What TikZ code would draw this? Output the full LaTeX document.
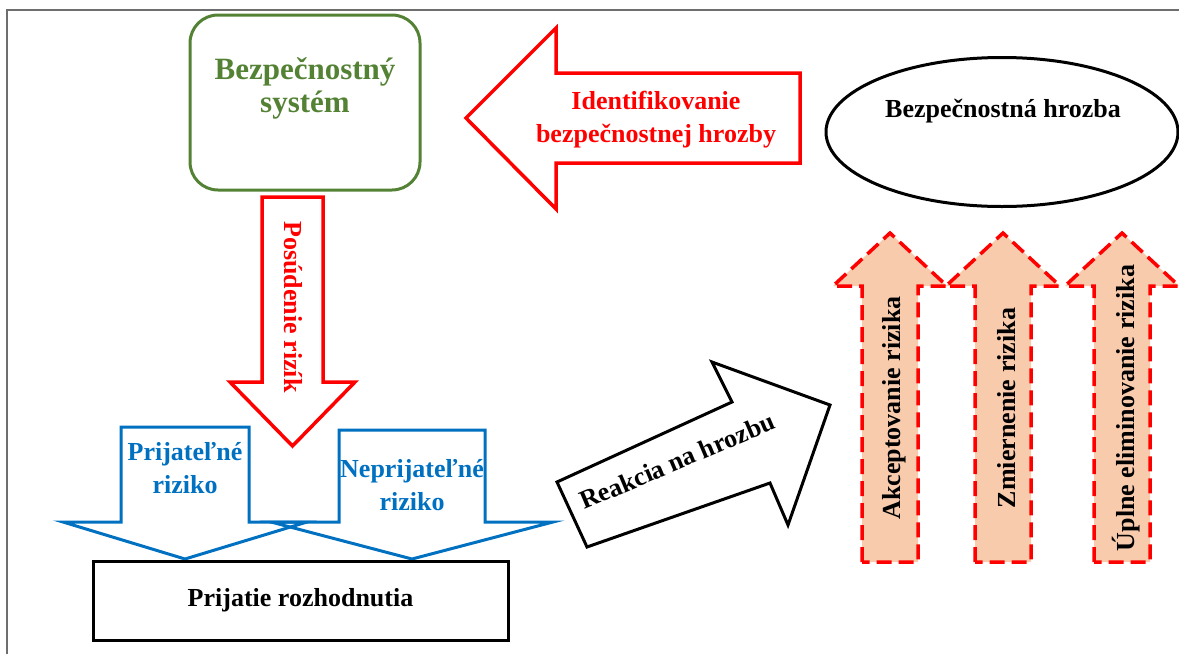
\documentclass[tikz,border=0pt]{standalone}
\usepackage{fontspec}
\setmainfont{Liberation Serif}
\usetikzlibrary{shapes.geometric,positioning}
\definecolor{darkgreen}{RGB}{84,130,53}
\definecolor{blueline}{RGB}{0,112,192}
\definecolor{peach}{RGB}{248,203,173}
\definecolor{framegray}{RGB}{110,110,110}

\begin{document}
\begin{tikzpicture}[x=1pt,y=-1pt,
  lbl/.style={font=\fontsize{26}{33}\selectfont\bfseries, align=center, inner sep=0pt},
  redarrow/.style={draw=red, line width=3.5pt},
  bluearrow/.style={draw=blueline, line width=3pt},
  riskarrow/.style={draw=red, line width=3.5pt, dash pattern=on 15pt off 7pt, fill=peach}]
\useasboundingbox (0,0) rectangle (1179,654);

% Frame
\draw[framegray, line width=1.5pt] (7,654) -- (7,10) -- (1179,10);

% Security system
\node[draw=darkgreen, line width=3pt, rounded corners=28pt, minimum width=230pt, minimum height=175pt, inner sep=0pt] (system) at (305,102.5) {};
\node[lbl, text=darkgreen, font=\fontsize{31}{33}\selectfont\bfseries] (systemtext) at (305,88) {Bezpečnostný\\systém};

% Threat
\node[draw, ellipse, line width=3pt, minimum width=352pt, minimum height=149pt] (threat) at (1002,132) {};
\node[lbl] (threattext) at (1003,111) {Bezpečnostná hrozba};

% Identification
\draw[redarrow] (466,118) -- (556,28) -- (556,73) -- (800,73) -- (800,163) -- (556,163) -- (556,209) -- cycle;
\node[lbl, text=red] (ident) at (656,120) {Identifikovanie\\bezpečnostnej hrozby};

% Risk assessment
\draw[redarrow] (262,197) -- (323,197) -- (323,382) -- (355,382) -- (292.5,446) -- (230,382) -- (262,382) -- cycle;
\node[lbl, text=red, rotate=-90] (assess) at (293,307) {Posúdenie rizík};

% Acceptable / unacceptable risk
\draw[bluearrow] (121,427) -- (249,427) -- (249,522) -- (307,522) -- (185,559) -- (63,522) -- (121,522) -- cycle;
\draw[bluearrow] (339,430) -- (485,430) -- (485,522) -- (553,522) -- (412,559) -- (271,522) -- (339,522) -- cycle;
\node[lbl, text=blueline] (accept) at (185,468) {Prijateľné\\riziko};
\node[lbl, text=blueline] (reject) at (412,485) {Neprijateľné\\riziko};

% Decision
\node[draw, line width=3pt, minimum width=415pt, minimum height=79pt, lbl] (decision) at (300.5,600.5) {Prijatie rozhodnutia};

% Response
\draw[line width=3pt, line join=miter] (557,482) -- (732,402) -- (712,362) -- (830,405) -- (788,525) -- (770,483) -- (587,547) -- cycle;
\node[lbl, rotate=23] (response) at (677,461) {Reakcia na hrozbu};

% Responses to risk
\foreach \cx/\txt [count=\i] in {890/Akceptovanie rizika, 1003/Zmiernenie rizika, 1122/Úplne eliminovanie rizika} {
  \draw[riskarrow] ({\cx-28},562) -- ({\cx-28},286) -- ({\cx-57},286) -- (\cx,233) -- ({\cx+57},286) -- ({\cx+28},286) -- ({\cx+28},562) -- cycle;
  \node[lbl, rotate=90] (risk\i) at ({\cx+4},408) {\txt};
}
\end{tikzpicture}
\end{document}
